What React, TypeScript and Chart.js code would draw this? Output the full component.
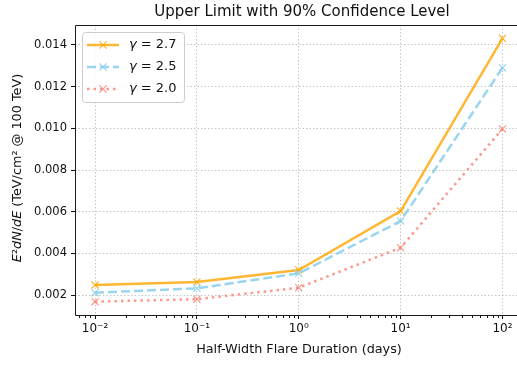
import { useEffect, useRef } from 'react';
import { Chart, registerables } from 'chart.js';
Chart.register(...registerables);

const durations = [0.01, 0.1, 1, 10, 100];
const gamma27 = [0.00248, 0.00262, 0.0032, 0.00603, 0.01432];
const gamma25 = [0.00211, 0.00232, 0.00304, 0.00555, 0.01291];
const gamma20 = [0.00168, 0.0018, 0.00235, 0.00427, 0.00997];
const seriesLabels = ['γ = 2.7', 'γ = 2.5', 'γ = 2.0'];
const xTickValues = [0.01, 0.1, 1, 10, 100];
const xTickLabels = ['10⁻²', '10⁻¹', '10⁰', '10¹', '10²'];
const yTickValues = [0.002, 0.004, 0.006, 0.008, 0.01, 0.012, 0.014];
const titleText = 'Upper Limit with 90% Confidence Level';
const xTitle = 'Half-Width Flare Duration (days)';
const yTitleParts: [string, boolean][] = [
  ['E', true], ['²', false], ['dN', true], ['/', false], ['dE', true], [' (TeV/cm² @ 100 TeV)', false],
];

const FONT = '"DejaVu Sans", sans-serif';
const colors = ['rgba(255,165,0,0.8)', 'rgba(135,206,235,0.85)', 'rgba(250,128,114,0.8)'];
const dashes = [[], [9, 4], [2.5, 4]];

const customPlugin = {
  id: 'custom',
  afterDraw(chart: any) {
    const { ctx, chartArea: ca } = chart;
    ctx.save();
    // frame (left, top, bottom; right spine lies beyond the canvas)
    ctx.strokeStyle = '#1a1a1a';
    ctx.lineWidth = 1;
    ctx.setLineDash([]);
    const l = Math.round(ca.left) + 0.5, t = Math.round(ca.top) + 0.5, b = Math.round(ca.bottom) + 0.5;
    ctx.beginPath();
    ctx.moveTo(chart.width + 2, t);
    ctx.lineTo(l, t);
    ctx.lineTo(l, b);
    ctx.lineTo(chart.width + 2, b);
    ctx.stroke();
    // minor ticks
    const xs = chart.scales.x;
    ctx.beginPath();
    for (let e = -3; e <= 2; e++) {
      for (let m = 2; m <= 9; m++) {
        const v = m * Math.pow(10, e);
        if (v < xs.min || v > xs.max) continue;
        const px = Math.round(xs.getPixelForValue(v)) + 0.5;
        ctx.moveTo(px, b);
        ctx.lineTo(px, b + 2.5);
      }
    }
    ctx.stroke();
    // title
    ctx.fillStyle = '#111';
    ctx.textAlign = 'center';
    ctx.textBaseline = 'middle';
    ctx.font = `15px ${FONT}`;
    ctx.fillText(titleText, 302, 12);
    // x label
    ctx.font = `12.8px ${FONT}`;
    ctx.fillText(xTitle, 299, 350);
    // y label
    ctx.save();
    ctx.translate(18, 168);
    ctx.rotate(-Math.PI / 2);
    let total = 0;
    const parts = yTitleParts.map(([tx, it]) => {
      ctx.font = `${it ? 'italic ' : ''}12.8px ${FONT}`;
      const w = ctx.measureText(tx).width;
      total += w;
      return { tx, it, w };
    });
    let x = -total / 2;
    ctx.textAlign = 'left';
    for (const p of parts) {
      ctx.font = `${p.it ? 'italic ' : ''}12.8px ${FONT}`;
      ctx.fillText(p.tx, x, 0);
      x += p.w;
    }
    ctx.restore();
    // legend
    const lx = 82.5, ly = 32.5, lw = 102, lh = 70;
    ctx.beginPath();
    ctx.roundRect(lx, ly, lw, lh, 3);
    ctx.fillStyle = 'rgba(255,255,255,0.85)';
    ctx.fill();
    ctx.strokeStyle = '#cccccc';
    ctx.lineWidth = 1;
    ctx.stroke();
    chart.data.datasets.forEach((ds: any, i: number) => {
      const yy = 45 + i * 22;
      ctx.save();
      ctx.strokeStyle = ds.borderColor;
      ctx.lineWidth = ds.borderWidth;
      ctx.setLineDash(ds.borderDash || []);
      ctx.beginPath();
      ctx.moveTo(87, yy);
      ctx.lineTo(119, yy);
      ctx.stroke();
      ctx.setLineDash([]);
      ctx.lineWidth = 1.2;
      const r = 3.6;
      ctx.beginPath();
      ctx.moveTo(103 - r, yy - r); ctx.lineTo(103 + r, yy + r);
      ctx.moveTo(103 - r, yy + r); ctx.lineTo(103 + r, yy - r);
      ctx.stroke();
      ctx.restore();
      const label: string = ds.label;
      ctx.fillStyle = '#111';
      ctx.textAlign = 'left';
      ctx.textBaseline = 'middle';
      ctx.font = `italic 13px ${FONT}`;
      const g = label.charAt(0);
      ctx.fillText(g, 129, yy);
      const gw = ctx.measureText(g).width;
      ctx.font = `13px ${FONT}`;
      ctx.fillText(label.slice(1), 129 + gw, yy);
    });
    ctx.restore();
  },
};

export default function App() {
  const ref = useRef<HTMLCanvasElement>(null);
  useEffect(() => {
    const series = [gamma27, gamma25, gamma20];
    const chart = new Chart(ref.current!, {
      type: 'line',
      data: {
        datasets: series.map((s, i) => ({
          label: seriesLabels[i],
          data: durations.map((d, j) => ({ x: d, y: s[j] })),
          borderColor: colors[i],
          backgroundColor: colors[i],
          borderWidth: 2.5,
          borderDash: dashes[i],
          pointStyle: 'crossRot',
          pointRadius: 5,
          pointBorderWidth: 1.2,
          pointBorderColor: colors[i],
          order: 3 - i,
          fill: false,
          tension: 0,
        })),
      },
      options: {
        animation: false,
        responsive: false,
        maintainAspectRatio: false,
        layout: { autoPadding: false, padding: { top: 25, right: 0, left: 0, bottom: 0 } },
        plugins: { legend: { display: false }, title: { display: false }, tooltip: { enabled: false } },
        scales: {
          x: {
            type: 'logarithmic',
            min: Math.pow(10, -2.1965),
            max: Math.pow(10, 2.1424),
            afterBuildTicks: (s: any) => { s.ticks = xTickValues.map((v) => ({ value: v, major: true })); },
            afterFit: (s: any) => { s.height = 50; s.paddingLeft = 0; s.paddingRight = 0; },
            ticks: {
              autoSkip: false,
              maxRotation: 0,
              padding: 3,
              color: '#111',
              font: { family: FONT, size: 12 },
              callback: (v: any) => { const k = xTickValues.findIndex((t) => Math.abs(t - v) / t < 1e-6); return k >= 0 ? xTickLabels[k] : ''; },
            },
            grid: { color: '#b8b8b8', lineWidth: 0.8, tickColor: '#111', tickLength: 4, tickBorderDash: [], tickWidth: 1 },
            border: { display: false, dash: [1.5, 2] },
          },
          y: {
            type: 'linear',
            min: 0.00104,
            max: 0.01496,
            afterBuildTicks: (s: any) => { s.ticks = yTickValues.map((v) => ({ value: v })); },
            afterFit: (s: any) => { s.width = 75; s.paddingTop = 0; s.paddingBottom = 0; },
            ticks: {
              padding: 4,
              color: '#111',
              font: { family: FONT, size: 11.5 },
              callback: (v: any) => Number(v).toFixed(3),
            },
            grid: { color: '#b8b8b8', lineWidth: 0.8, tickColor: '#111', tickLength: 4, tickBorderDash: [], tickWidth: 1 },
            border: { display: false, dash: [1.5, 2] },
          },
        },
      },
      plugins: [customPlugin],
    } as any);
    return () => chart.destroy();
  }, []);
  return (
    <div style={{ position: 'fixed', left: 0, top: 0, width: 517, height: 365, background: '#fff' }}>
      <canvas ref={ref} width={517} height={365} />
    </div>
  );
}
